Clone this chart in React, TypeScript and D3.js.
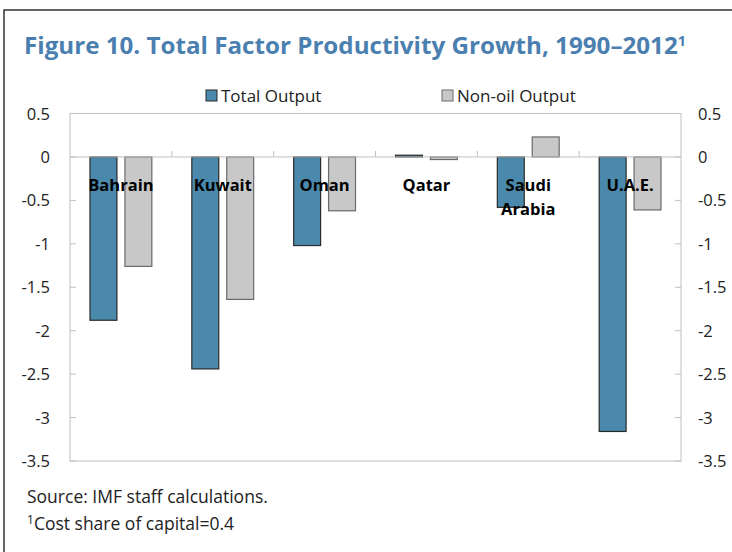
import * as d3 from 'd3';

const categories = ['Bahrain', 'Kuwait', 'Oman', 'Qatar', 'Saudi Arabia', 'U.A.E.'];
const labelLines = [['Bahrain'], ['Kuwait'], ['Oman'], ['Qatar'], ['Saudi', 'Arabia'], ['U.A.E.']];
const seriesNames = ['Total Output', 'Non-oil Output'];
const totalOutput = [-1.88, -2.44, -1.02, 0.02, -0.58, -3.16];
const nonOilOutput = [-1.26, -1.64, -0.62, -0.03, 0.23, -0.61];
const yTicks = [0.5, 0, -0.5, -1, -1.5, -2, -2.5, -3, -3.5];

const colors = ['#4a89ab', '#c8c8c8'];
const strokes = ['#2a2a2a', '#6a6a6a'];
const font = "'Open Sans', 'Noto Sans', sans-serif";

const App = () => {
  const left = 70, right = 681, top = 113.5, bottom = 461;
  const y = d3.scaleLinear().domain([-3.5, 0.5]).range([bottom, top]);
  const x0 = d3.scaleBand().domain(categories).range([left, right]);
  const x1 = d3.scaleBand().domain(seriesNames).range([20, x0.bandwidth() - 20]).paddingInner(8 / 35);
  const values = [totalOutput, nonOilOutput];

  return (
    <svg width={732} height={552} style={{ position: 'absolute', left: 0, top: 0, background: '#fff' }}>
      <path d="M4,552 V10 H732" fill="none" stroke="#333" strokeWidth={1.5} />
      <text x={24} y={54} fill="#4a7fb0" fontFamily={font} fontWeight="bold" fontSize={23.5}
        textLength={662} lengthAdjust="spacingAndGlyphs">
        Figure 10. Total Factor Productivity Growth, 1990–2012<tspan fontSize={14} dy={-8}>1</tspan>
      </text>

      {/* legend */}
      {seriesNames.map((s, i) => (
        <g key={s} transform={`translate(${[206, 442][i]},90)`}>
          <rect width={11} height={11} fill={colors[i]} stroke={strokes[i]} strokeWidth={1} />
          <text x={15} y={11.5} fontFamily={font} fontSize={17} fill="#222">{s}</text>
        </g>
      ))}

      {/* plot frame */}
      <rect x={left} y={top} width={right - left} height={bottom - top} fill="none" stroke="#c0c0c0" strokeWidth={1} />

      {/* bars */}
      {categories.map((c, ci) =>
        seriesNames.map((s, si) => {
          const v = values[si][ci];
          return (
            <rect key={c + s}
              x={(x0(c) ?? 0) + (x1(s) ?? 0)}
              y={Math.min(y(v), y(0))}
              width={x1.bandwidth()}
              height={Math.abs(y(v) - y(0))}
              fill={colors[si]} stroke={strokes[si]} strokeWidth={1.2} />
          );
        })
      )}

      {/* zero line and category ticks */}
      <line x1={left} x2={right} y1={y(0)} y2={y(0)} stroke="#c0c0c0" strokeWidth={1} />
      {categories.slice(1).map(c => (
        <line key={c} x1={x0(c)} x2={x0(c)} y1={y(0) - 6} y2={y(0)} stroke="#c0c0c0" />
      ))}

      {/* y axes */}
      {yTicks.map(t => (
        <g key={t}>
          <line x1={left} x2={left + 6} y1={y(t)} y2={y(t)} stroke="#c0c0c0" />
          <line x1={right - 6} x2={right} y1={y(t)} y2={y(t)} stroke="#c0c0c0" />
          <text x={50} y={y(t) + 6} textAnchor="end" fontFamily={font} fontSize={16.5} fill="#222">{String(t)}</text>
          <text x={698} y={y(t) + 6} fontFamily={font} fontSize={16.5} fill="#222">{String(t)}</text>
        </g>
      ))}

      {/* category labels */}
      {categories.map((c, ci) => (
        <text key={c} x={(x0(c) ?? 0) + x0.bandwidth() / 2} y={191} textAnchor="middle"
          fontFamily={font} fontWeight="bold" fontSize={16.5} fill="#000">
          {labelLines[ci].map((l, li) => (
            <tspan key={l} x={(x0(c) ?? 0) + x0.bandwidth() / 2} dy={li === 0 ? 0 : 24}>{l}</tspan>
          ))}
        </text>
      ))}

      <text x={27} y={503} fontFamily={font} fontSize={17.5} fill="#222">Source: IMF staff calculations.</text>
      <text x={27} y={530} fontFamily={font} fontSize={17.5} fill="#222">
        <tspan fontSize={12} dy={-6}>1</tspan><tspan dy={6}>Cost share of capital=0.4</tspan>
      </text>
    </svg>
  );
};

export default App;
